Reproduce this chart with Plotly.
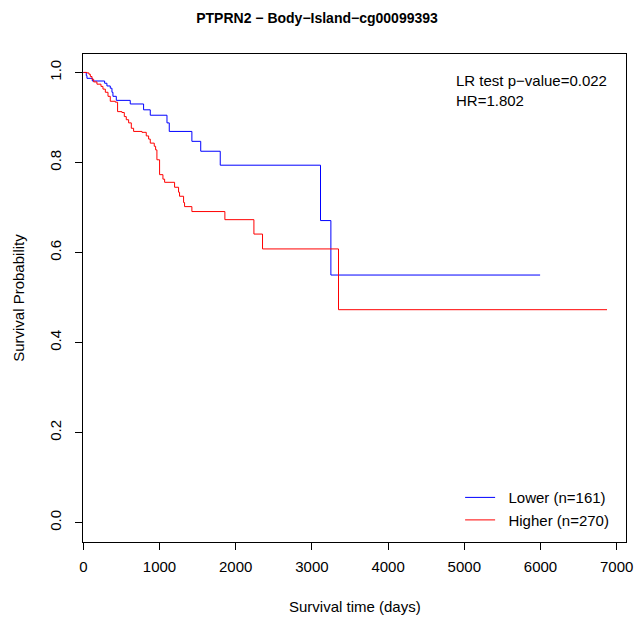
import plotly.graph_objects as go

# Kaplan-Meier step data (time in days, survival probability)
lower_time = [0, 39, 48, 118, 280, 310, 354, 376, 389, 433, 616, 791, 879, 1098, 1128,
              1425, 1541, 1797, 3113, 3249, 5995]
lower_surv = [1.0, 0.993, 0.987, 0.981, 0.976, 0.970, 0.965, 0.956, 0.947, 0.938, 0.930,
              0.917, 0.905, 0.888, 0.869, 0.847, 0.825, 0.794, 0.671, 0.550, 0.550]

higher_time = [0, 48, 74, 92, 114, 136, 179, 232, 258, 289, 324, 354, 420, 450, 507, 538,
               564, 595, 630, 660, 770, 826, 857, 879, 931, 949, 966, 1001, 1045, 1067,
               1198, 1250, 1263, 1316, 1329, 1425, 1858, 2239, 2352, 3349, 6873]
higher_surv = [1.0, 0.999, 0.996, 0.991, 0.985, 0.979, 0.974, 0.969, 0.963, 0.956, 0.947,
               0.936, 0.934, 0.913, 0.911, 0.902, 0.895, 0.888, 0.876, 0.869, 0.867, 0.859,
               0.852, 0.843, 0.836, 0.828, 0.806, 0.773, 0.763, 0.756, 0.745, 0.734, 0.725,
               0.711, 0.702, 0.691, 0.673, 0.641, 0.608, 0.473, 0.473]

series_names = ["Lower (n=161)", "Higher (n=270)"]
series_colors = ["#0000FF", "#FF0000"]
x_ticks = [0, 1000, 2000, 3000, 4000, 5000, 6000, 7000]
y_ticks = [0.0, 0.2, 0.4, 0.6, 0.8, 1.0]

title_text = "PTPRN2 \u2212 Body\u2212Island\u2212cg00099393"
stats_lines = ["LR test p\u2212value=0.022", "HR=1.802"]

FONT = "Liberation Sans, Arial, Helvetica, sans-serif"

fig = go.Figure()
for t, s, name, col in [(lower_time, lower_surv, series_names[0], series_colors[0]),
                        (higher_time, higher_surv, series_names[1], series_colors[1])]:
    fig.add_trace(go.Scatter(x=t, y=s, mode="lines", name="\u00a0\u00a0" + name,
                             line=dict(color=col, width=1, shape="hv")))

axis_common = dict(showgrid=False, zeroline=False, showline=True, linecolor="black",
                   linewidth=1, mirror=True, ticks="outside", ticklen=7, tickwidth=1,
                   tickcolor="black", automargin=False,
                   tickfont=dict(family=FONT, size=15, color="black"))

fig.update_layout(
    width=634, height=619,
    margin=dict(l=83, r=8, t=54, b=77, pad=0, autoexpand=False),
    paper_bgcolor="white", plot_bgcolor="white",
    font=dict(family=FONT, size=15, color="black"),
    xaxis=dict(range=[-4, 7122], tickvals=x_ticks, ticktext=[str(v) for v in x_ticks],
               ticklabelstandoff=4, **axis_common),
    yaxis=dict(range=[-0.043, 1.041], tickvals=y_ticks,
               ticktext=[f"{v:.1f}" for v in y_ticks], tickangle=-90,
               ticklabelstandoff=8, **axis_common),
    showlegend=True,
    legend=dict(x=0.6945, y=0.012, xanchor="left", yanchor="bottom",
                bgcolor="rgba(0,0,0,0)", font=dict(family=FONT, size=15),
                itemwidth=30, tracegroupgap=0),
    title=dict(text="<b>" + title_text + "</b>", x=0.5, xanchor="center",
               y=0.971, yanchor="middle", yref="container",
               font=dict(family=FONT, size=14, color="black")),
    annotations=[
        dict(text="Survival time (days)", x=0.5, y=-0.133, xref="paper", yref="paper",
             xanchor="center", yanchor="middle", showarrow=False,
             font=dict(family=FONT, size=15)),
        dict(text="Survival Probability", x=-0.12, y=0.5, xref="paper", yref="paper",
             xanchor="center", yanchor="middle", showarrow=False, textangle=-90,
             font=dict(family=FONT, size=15)),
        dict(text=stats_lines[0], x=0.684, y=0.945, xref="paper", yref="paper",
             xanchor="left", yanchor="middle", showarrow=False,
             font=dict(family=FONT, size=15)),
        dict(text=stats_lines[1], x=0.684, y=0.905, xref="paper", yref="paper",
             xanchor="left", yanchor="middle", showarrow=False,
             font=dict(family=FONT, size=15)),
    ],
)

fig.write_html("out.html", config={"displayModeBar": False},
               post_script="document.body.style.margin='0px';document.body.style.padding='0px';")
